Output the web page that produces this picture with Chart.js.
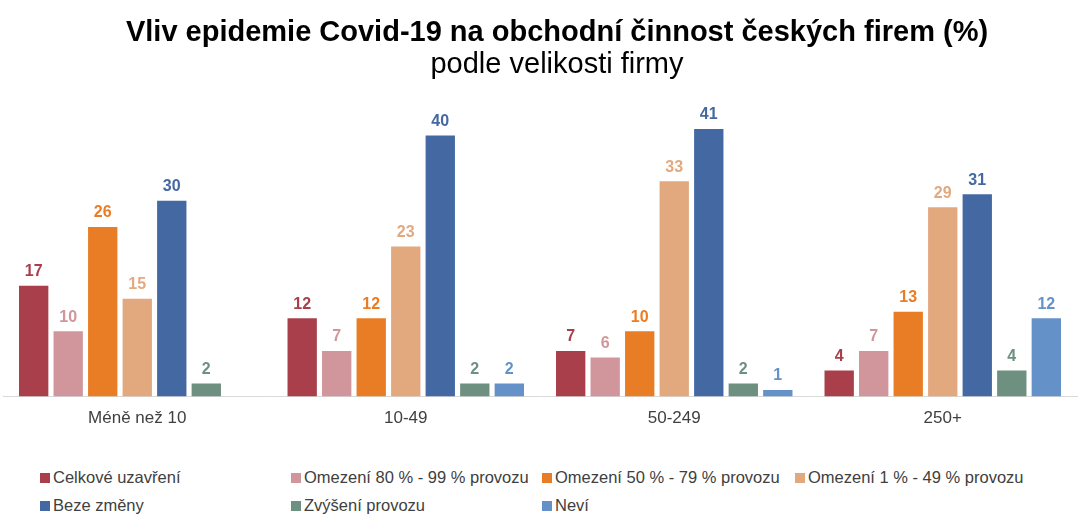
<!DOCTYPE html>
<html>
<head>
<meta charset="utf-8">
<script src="https://cdn.jsdelivr.net/npm/chart.js@4/dist/chart.umd.min.js"></script>
<style>
    body { margin: 0; background: #fff; font-family: "Liberation Sans", Arial, sans-serif; }
    #wrap { position: relative; width: 1080px; height: 526px; }
    #chartBox { position: absolute; left: 0; top: 0; width: 1080px; height: 441px; }
    .ttl { position: absolute; left: 0; width: 1114px; text-align: center; color: #000; line-height: 34px; white-space: nowrap; }
    #title { top: 14px; font-size: 29px; font-weight: bold; }
    #subtitle { top: 46px; font-size: 29px; }
    #legend { position: absolute; left: 40px; top: 468px; width: 1040px;
              display: grid; grid-template-columns: 251px 251px 253px 250px; row-gap: 9px; }
    .item { font-size: 16.5px; color: #404040; line-height: 19px; white-space: nowrap; }
    .item span { display: inline-block; width: 10px; height: 10px; margin-right: 3px; vertical-align: 0px; }
</style>
</head>
<body>
<div id="wrap">
    <div id="chartBox"><canvas id="covidChart"></canvas></div>
    <div class="ttl" id="title">Vliv epidemie Covid-19 na obchodní činnost českých firem (%)</div>
    <div class="ttl" id="subtitle">podle velikosti firmy</div>
    <div id="legend"></div>
</div>
<script>
// categories (company size)
const sizes = ["Méně než 10", "10-49", "50-249", "250+"];

// series names and values (%)
const seriesNames = [
    "Celkové uzavření",
    "Omezení 80 % - 99 % provozu",
    "Omezení 50 % - 79 % provozu",
    "Omezení 1 % - 49 % provozu",
    "Beze změny",
    "Zvýšení provozu",
    "Neví"
];
const celkoveUzavreni = [17, 12, 7, 4];
const omezeni80_99 = [10, 7, 6, 7];
const omezeni50_79 = [26, 12, 10, 13];
const omezeni1_49 = [15, 23, 33, 29];
const bezeZmeny = [30, 40, 41, 31];
const zvyseni = [2, 2, 2, 4];
const nevi = [null, 2, 1, 12];

const seriesColors = ["#a83f4a", "#d0969c", "#e87d25", "#e2a97f", "#4469a2", "#6e9080", "#6391c8"];
const seriesValues = [celkoveUzavreni, omezeni80_99, omezeni50_79, omezeni1_49, bezeZmeny, zvyseni, nevi];

// value labels above bars, same colour as bar
const valueLabels = {
    id: "valueLabels",
    afterDatasetsDraw(chart) {
        const ctx = chart.ctx;
        ctx.save();
        ctx.font = "bold 16px 'Liberation Sans', Arial, sans-serif";
        ctx.textAlign = "center";
        ctx.textBaseline = "bottom";
        chart.data.datasets.forEach((ds, i) => {
            const meta = chart.getDatasetMeta(i);
            meta.data.forEach((bar, j) => {
                const v = ds.data[j];
                if (v === null || v === undefined) return;
                ctx.fillStyle = ds.backgroundColor;
                ctx.fillText(String(v), bar.x, bar.y - 6);
            });
        });
        ctx.restore();
    }
};

const ctx = document.getElementById("covidChart").getContext("2d");
const covidChart = new Chart(ctx, {
    type: "bar",
    data: {
        labels: sizes,
        datasets: seriesNames.map((name, i) => ({
            label: name,
            data: seriesValues[i],
            backgroundColor: seriesColors[i],
            categoryPercentage: 0.9,
            barPercentage: 0.85
        }))
    },
    options: {
        responsive: true,
        maintainAspectRatio: false,
        animation: false,
        layout: { padding: { left: 3, right: 3, top: 86, bottom: 0 } },
        plugins: {
            legend: { display: false },
            tooltip: { enabled: false }
        },
        scales: {
            x: {
                grid: { display: false, drawTicks: false },
                border: { display: true, color: "#d9d9d9" },
                ticks: {
                    color: "#404040",
                    padding: 12,
                    font: { family: "'Liberation Sans', Arial, sans-serif", size: 17 }
                }
            },
            y: {
                display: false,
                min: 0,
                max: 47.6
            }
        }
    },
    plugins: [valueLabels]
});

// legend in four columns, like the original
const legendEl = document.getElementById("legend");
seriesNames.forEach((name, i) => {
    const div = document.createElement("div");
    div.className = "item";
    div.innerHTML = '<span style="background:' + seriesColors[i] + '"></span>' + name;
    legendEl.appendChild(div);
});
</script>
</body>
</html>
